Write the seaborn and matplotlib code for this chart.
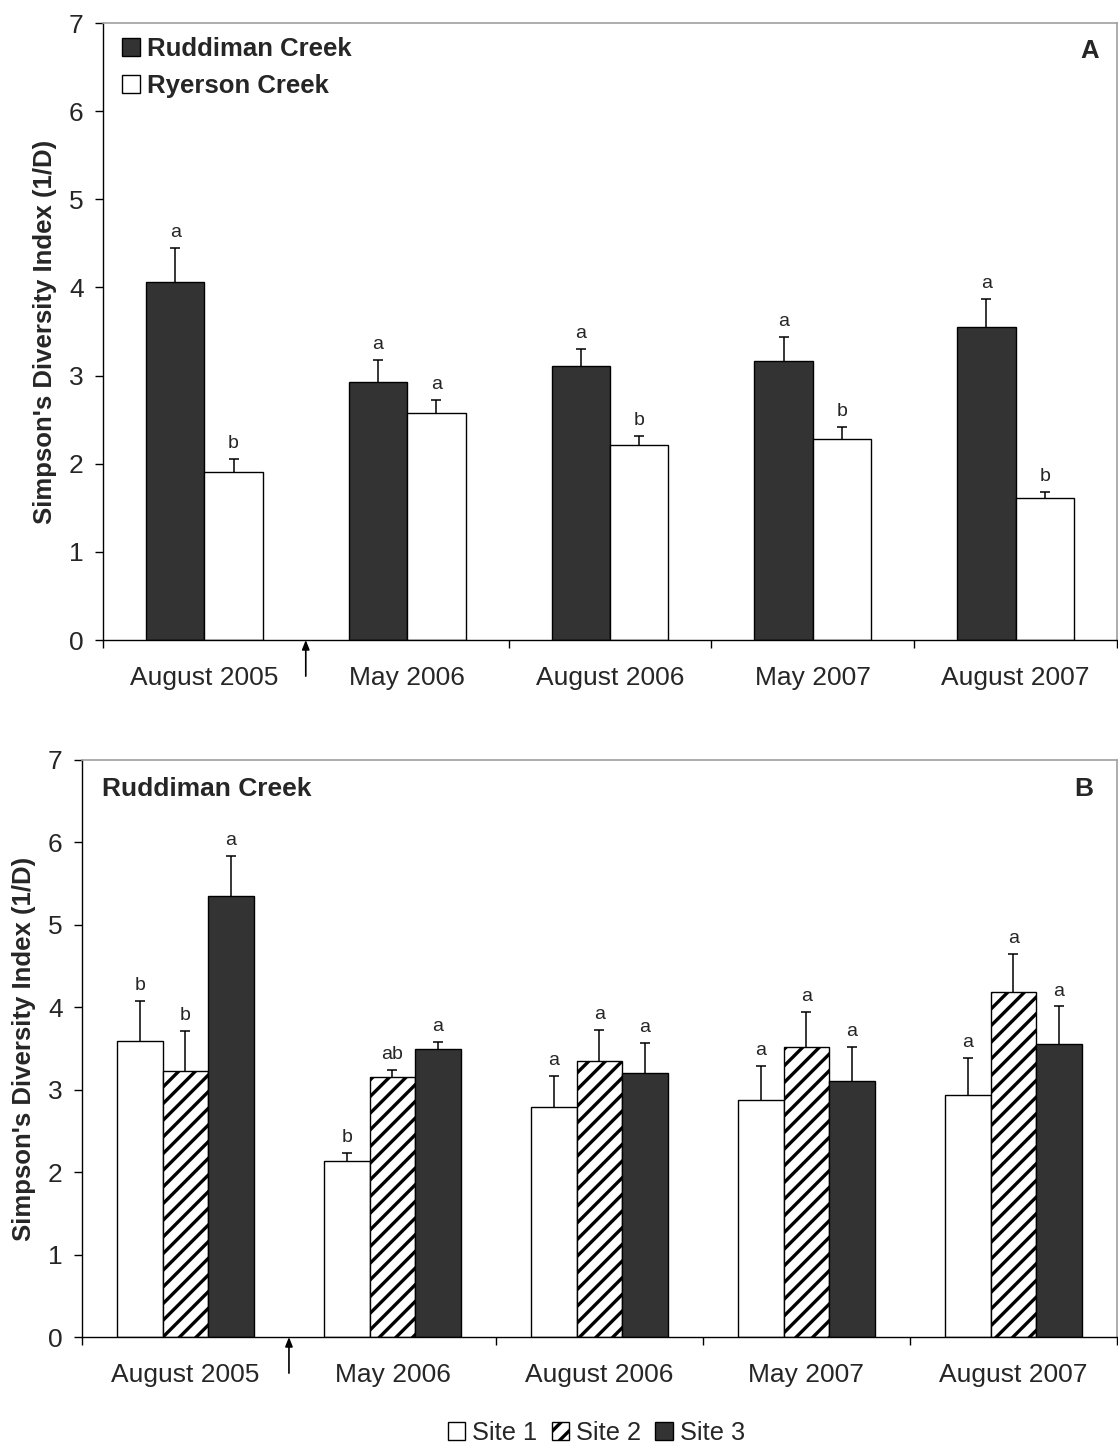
import numpy as np
import pandas as pd
import matplotlib
matplotlib.use("Agg")
import matplotlib.pyplot as plt
from matplotlib.patches import Patch
import seaborn as sns

# dados
datas = ["August 2005", "May 2006", "August 2006", "May 2007", "August 2007"]

# painel A
rud_media = [4.06, 2.93, 3.11, 3.17, 3.55]
rud_ep = [0.39, 0.25, 0.19, 0.27, 0.32]
rud_letras = ["a", "a", "a", "a", "a"]
rye_media = [1.91, 2.57, 2.21, 2.28, 1.61]
rye_ep = [0.14, 0.15, 0.11, 0.14, 0.07]
rye_letras = ["b", "a", "b", "b", "b"]

# painel B (Ruddiman Creek, por local)
s1_media = [3.59, 2.14, 2.79, 2.87, 2.93]
s1_ep = [0.49, 0.09, 0.38, 0.42, 0.46]
s1_letras = ["b", "b", "a", "a", "a"]
s2_media = [3.23, 3.15, 3.35, 3.52, 4.19]
s2_ep = [0.48, 0.09, 0.38, 0.42, 0.46]
s2_letras = ["b", "ab", "a", "a", "a"]
s3_media = [5.35, 3.49, 3.20, 3.10, 3.55]
s3_ep = [0.48, 0.09, 0.37, 0.42, 0.46]
s3_letras = ["a", "a", "a", "a", "a"]

sns.set_style("white")
plt.rcParams["font.family"] = ["Liberation Sans", "DejaVu Sans"]
plt.rcParams["hatch.linewidth"] = 2.4

ESCURO = "#333333"
CINZA = "#a0a0a0"
YLAB = "Simpson's Diversity Index (1/D)"


def monta_df(series):
    linhas = []
    for nome, medias in series:
        for d, v in zip(datas, medias):
            linhas.append({"data": d, "grupo": nome, "valor": v})
    return pd.DataFrame(linhas)


def desenha(ax, df, cores, largura, eps, letras, pad_x):
    sns.barplot(data=df, x="data", y="valor", hue="grupo", palette=cores,
                width=largura, edgecolor="black", linewidth=1.0, saturation=1,
                errorbar=None, legend=False, ax=ax, zorder=2)
    for cont, ep, lt in zip(ax.containers, eps, letras):
        xs = np.array([b.get_x() + b.get_width() / 2 for b in cont])
        ys = np.array([b.get_height() for b in cont])
        topo = ys + np.array(ep)
        # só a metade superior do erro padrão
        ax.vlines(xs, ys, topo, color="black", lw=1.1, zorder=3)
        ax.plot(xs, topo, ls="none", marker="_", ms=7, mew=1.1, color="black",
                zorder=3)
        for x, t, l in zip(xs, topo, lt):
            ax.annotate(l, (x, t), xytext=(0, 5), textcoords="offset points",
                        ha="center", va="bottom", fontsize=14)
    ax.set_xlim(-0.5, 4.5)
    ax.set_ylim(0, 7)
    ax.set_yticks(range(0, 8))
    ax.set_xlabel("")
    ax.set_ylabel(YLAB, fontsize=18.5, fontweight="bold")
    ax.set_xticks(range(5))
    ax.set_xticklabels(datas)
    ax.set_xticks([-0.5, 1.5, 2.5, 3.5, 4.5], minor=True)
    ax.tick_params(axis="x", which="major", length=0, pad=pad_x, labelsize=19)
    ax.tick_params(axis="x", which="minor", bottom=True, length=6, width=1,
                   direction="out", color="black")
    ax.tick_params(axis="y", length=6, width=1, direction="out", pad=8,
                   labelsize=19, left=True, color="black")
    for lado in ["left", "bottom"]:
        ax.spines[lado].set_color("black")
        ax.spines[lado].set_linewidth(1.0)
    for lado in ["top", "right"]:
        ax.spines[lado].set_color(CINZA)
        ax.spines[lado].set_linewidth(1.2)
    # seta na fronteira entre agosto 2005 e maio 2006
    ax.annotate("", xy=(0.5, 0), xycoords="data", xytext=(0, -26),
                textcoords="offset points",
                arrowprops=dict(arrowstyle="-|>,head_length=0.55,head_width=0.22",
                                color="black", lw=1.2, shrinkA=0, shrinkB=0),
                annotation_clip=False)


fig = plt.figure(figsize=(11.18, 14.47), dpi=100)

# painel A
axA = fig.add_axes([0.0921, 0.5577, 0.9070, 0.4264])
dfA = monta_df([("Ruddiman Creek", rud_media), ("Ryerson Creek", rye_media)])
desenha(axA, dfA, [ESCURO, "white"], 0.576, [rud_ep, rye_ep],
        [rud_letras, rye_letras], 19)
axA.yaxis.set_label_coords(-0.045, 0.5)
hA = [Patch(facecolor=ESCURO, edgecolor="black"),
      Patch(facecolor="white", edgecolor="black")]
axA.legend(hA, ["Ruddiman Creek", "Ryerson Creek"], loc="upper left",
           bbox_to_anchor=(0.019, 0.977), frameon=False,
           prop={"weight": "bold", "size": 18.5}, handlelength=0.7,
           handleheight=0.7, handletextpad=0.28, labelspacing=0.5,
           borderpad=0, borderaxespad=0)
axA.text(0.973, 0.955, "A", transform=axA.transAxes, ha="center", va="center",
         fontsize=18.5, fontweight="bold")

# painel B
axB = fig.add_axes([0.0733, 0.0760, 0.9258, 0.3988])
dfB = monta_df([("Site 1", s1_media), ("Site 2", s2_media), ("Site 3", s3_media)])
desenha(axB, dfB, ["white", "white", ESCURO], 0.66, [s1_ep, s2_ep, s3_ep],
        [s1_letras, s2_letras, s3_letras], 18.5)
for b in axB.containers[1]:
    b.set_hatch("//")
axB.yaxis.set_label_coords(-0.044, 0.5)
axB.text(0.019, 0.95, "Ruddiman Creek", transform=axB.transAxes, ha="left",
         va="center", fontsize=19, fontweight="bold")
axB.text(0.968, 0.95, "B", transform=axB.transAxes, ha="center", va="center",
         fontsize=19, fontweight="bold")

hB = [Patch(facecolor="white", edgecolor="black"),
      Patch(facecolor="white", edgecolor="black", hatch="//"),
      Patch(facecolor=ESCURO, edgecolor="black")]
fig.legend(hB, ["Site 1", "Site 2", "Site 3"], loc="center",
           bbox_to_anchor=(596.5 / 1118, 1 - 1433 / 1447), ncol=3,
           frameon=False, fontsize=18.3, handlelength=0.7, handleheight=0.7,
           handletextpad=0.28, columnspacing=0.55, borderpad=0)

fig.savefig("out.png", dpi=100)
